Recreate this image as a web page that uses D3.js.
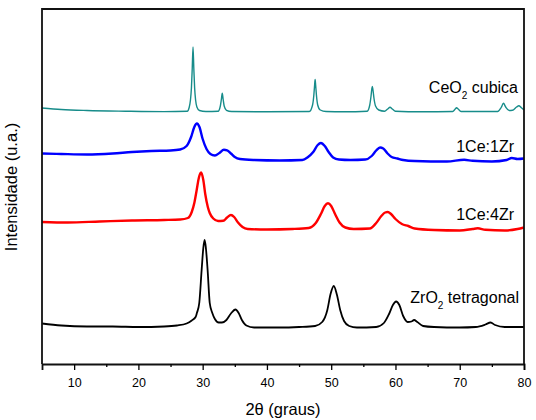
<!DOCTYPE html>
<html><head><meta charset="utf-8">
<script src="https://cdn.jsdelivr.net/npm/d3@7"></script>
<style>body{margin:0;background:#fff}svg{display:block}text{font-family:"Liberation Sans",Arial,sans-serif;fill:#000}</style>
</head><body><svg id="c" width="536" height="420"></svg>
<script>
// 2theta (degrees) and intensity (arbitrary units) for each sample
const ceo2 = [[5,256],[8,254.5],[12,253.5],[18,252.8],[24,252.4],[27.6,252.8],[27.9,256.5],[28.1,264],[28.25,276],[28.38,296],[28.5,317],[28.62,296],[28.75,276],[28.9,264],[29.1,257],[29.5,253.5],[30.5,252.5],[32.4,252.7],[32.75,258],[32.92,265],[33.05,270.7],[33.18,265],[33.35,258],[33.7,253.7],[34.5,252.5],[40,252.2],[46.6,252.5],[47.1,259],[47.3,269],[47.42,279],[47.5,284.5],[47.58,279],[47.7,269],[47.9,259],[48.3,254],[49.2,252.5],[52,252.2],[55.6,252.8],[56.0,259],[56.2,268],[56.32,275],[56.4,277.5],[56.5,274],[56.65,266],[56.9,258],[57.4,254],[58.3,252.8],[58.8,255],[59.15,256.7],[59.5,255],[60.0,252.8],[64,252.2],[68.9,252.5],[69.3,255],[69.5,256.3],[69.75,255],[70.2,252.5],[75.9,252.5],[76.45,256.5],[76.8,260.7],[77.15,257],[77.7,253.5],[78.2,253.7],[78.85,257],[79.2,258.2],[79.55,256.5],[80,254]];
const ce1zr1 = [[5,210.5],[8,210],[12,209.5],[16,210.5],[19,212],[22,213],[25,213.5],[26.5,214.5],[27.5,218],[28.2,227],[28.7,237],[29.1,240.5],[29.5,237],[30.0,225],[30.6,215],[31.2,210],[31.9,208.5],[32.6,211],[33.3,214.2],[33.8,213.7],[34.4,210.5],[35.0,207],[35.8,205],[38,204],[42,203.5],[45.5,204],[46.3,206.5],[47.2,212],[47.9,219],[48.4,221],[49.0,218],[49.6,212],[50.3,206.5],[51.2,204.5],[53,204],[55.3,204.5],[56.3,208],[57.0,213.5],[57.6,216.5],[58.1,215.5],[58.7,211],[59.4,207],[60.3,205.5],[61.2,204],[63,203],[68,202.5],[70.7,204.2],[72,203.2],[75,202.5],[77.3,204],[78.1,206],[79,205],[80,205.5]];
const ce1zr4 = [[5,142],[9,141.5],[14,142.5],[19,143.5],[24,144],[26.5,144.5],[27.7,146],[28.3,152],[28.7,161],[29.07,174],[29.4,186],[29.75,191.5],[30.1,184],[30.4,170],[30.8,157],[31.1,151],[31.65,145.5],[32.4,143],[33.2,143.2],[33.8,146.5],[34.4,149],[34.9,147],[35.5,141.5],[36.2,137],[37,135],[40,134.5],[44,135],[46.5,136],[47.6,141],[48.4,150],[49.0,158],[49.5,160.7],[50.0,158],[50.6,150],[51.3,141.5],[52.2,136.5],[53.5,135],[56,135.5],[57.0,141],[57.8,148],[58.4,151.5],[58.8,152],[59.3,150],[60.0,145],[61,140],[62,138],[63,135.5],[66,134],[70,133.5],[72,135],[72.8,135.7],[74,134.2],[77,133.5],[79,135],[80,136.5]];
const zro2 = [[5,40.5],[8,38.5],[12,37.5],[16,37.5],[20,37],[24,37.5],[26,38.5],[27.5,40.5],[28.3,43.5],[28.9,47],[29.1,51],[29.47,61],[29.84,94],[30.1,116],[30.3,124],[30.5,116],[30.77,94],[31.1,61],[31.5,51],[31.9,45],[32.5,41.5],[33.0,41.5],[33.7,44],[34.4,50.5],[35.1,54.5],[35.6,51],[36.1,44],[36.8,38.5],[38,36.5],[42,36.5],[45,37],[47.5,38],[48.6,42],[49.4,54],[49.9,70],[50.4,78],[50.9,69],[51.4,54],[52.0,43],[52.8,38],[54,36.5],[57,37],[58.2,41],[59.0,50],[59.6,59],[60.1,62.5],[60.6,59],[61.2,48],[61.9,42],[62.5,42.5],[62.9,44],[63.4,42],[64.3,38],[66,37],[70,36.5],[72.5,37],[74,39.5],[74.8,41.5],[75.5,39],[77,37],[80,37]];
const majorTicks = [10,20,30,40,50,60,70,80];
const minorTicks = [15,25,35,45,55,65,75];
const xTitle = "2θ (graus)";
const yTitle = "Intensidade (u.a.)";

const svg = d3.select("#c");
const W = 536, H = 420;
const L = 42, R = 524, T = 9, B = 364;
svg.append("rect").attr("width",W).attr("height",H).attr("fill","#fff");

const x = d3.scaleLinear().domain([5,80]).range([L,R]);
const y = d3.scaleLinear().domain([0,355]).range([B,T]);

const series = [
  {data: ceo2, color: "#178c8a", w: 1.4},
  {data: ce1zr1, color: "#0000ff", w: 2.4},
  {data: ce1zr4, color: "#ff0000", w: 2.4},
  {data: zro2, color: "#000000", w: 1.8}
];
const line = d3.line().x(d=>x(d[0])).y(d=>y(d[1])).curve(d3.curveMonotoneX);
svg.append("g").selectAll("path").data(series).join("path")
  .attr("d", d=>line(d.data)).attr("fill","none")
  .attr("stroke", d=>d.color).attr("stroke-width", d=>d.w)
  .attr("stroke-linejoin","round");

// frame (left, top, right) from the scales' ranges
const [x0, x1] = x.range(), [y0, y1] = y.range();
svg.append("path")
  .attr("d", `M${x0},${y0}V${y1}H${x1}V${y0}`)
  .attr("fill","none").attr("stroke","#111").attr("stroke-width",1.8);

// x axis
const ax = svg.append("g").attr("transform",`translate(0,${B})`)
  .call(d3.axisBottom(x).tickValues(majorTicks).tickSize(6).tickPadding(8).tickFormat(d3.format("d")));
ax.select(".domain").attr("stroke-width",1.8).attr("stroke","#111");
ax.selectAll(".tick line").attr("stroke-width",1.3);
ax.selectAll("text").style("font-size","12.5px").style("font-family","'Liberation Sans',Arial,sans-serif");
svg.append("g").attr("transform",`translate(0,${B})`)
  .call(d3.axisBottom(x).tickValues(minorTicks).tickSize(3).tickFormat(""))
  .call(g=>g.select(".domain").remove())
  .selectAll(".tick line").attr("stroke-width",1.3);

svg.append("text").attr("x",283).attr("y",415).attr("text-anchor","middle")
  .style("font-size","16.5px").text(xTitle);
svg.append("text").attr("transform","translate(16.5,187) rotate(-90)").attr("text-anchor","middle")
  .style("font-size","16.5px").text(yTitle);

// labels
function label(xp, yp, parts){
  const t = svg.append("text").attr("x",xp).attr("y",yp).attr("text-anchor","end").style("font-size","16px");
  parts.forEach(p=>{
    const s = t.append("tspan").text(p.t);
    if (p.sub) s.attr("dy",6).style("font-size","10px");
    if (p.after) s.attr("dy",-6);
  });
}
label(518, 92.5, [{t:"CeO"},{t:"2",sub:true},{t:" cubica",after:true}]);
label(514, 152, [{t:"1Ce:1Zr"}]);
label(514, 219.5, [{t:"1Ce:4Zr"}]);
label(519, 303, [{t:"ZrO"},{t:"2",sub:true},{t:" tetragonal",after:true}]);
</script></body></html>
